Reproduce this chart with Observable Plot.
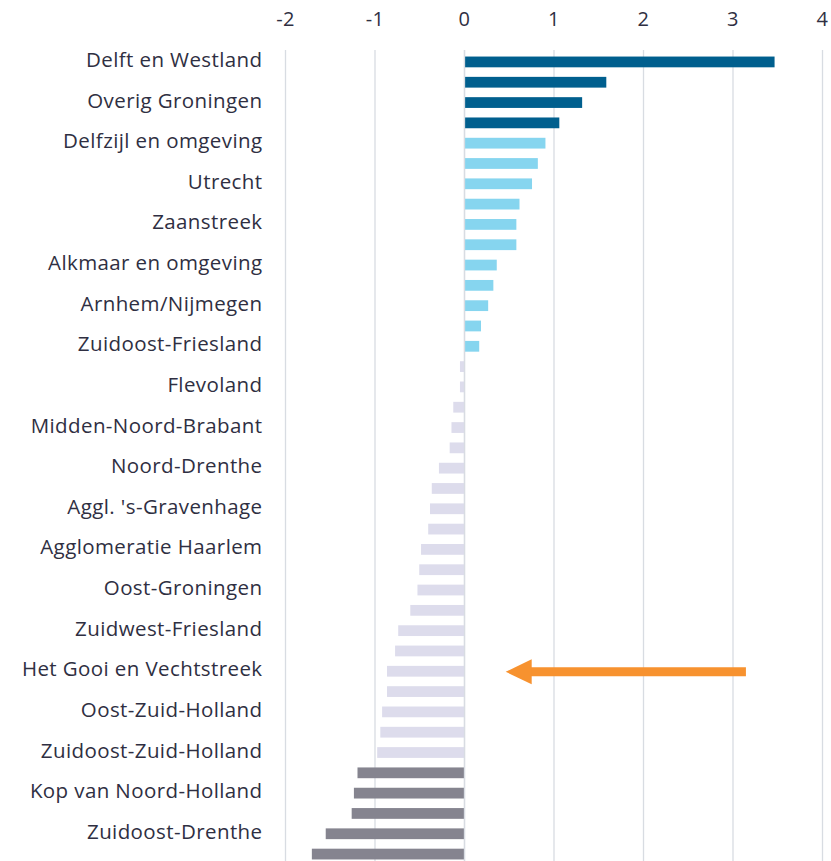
<!DOCTYPE html>
<html><head><meta charset="utf-8">
<script src="https://cdn.jsdelivr.net/npm/d3@7"></script>
<script src="https://cdn.jsdelivr.net/npm/@observablehq/plot@0.6"></script>
<style>
html,body{margin:0;padding:0;background:#fff;overflow:hidden;}
svg{display:block;}
</style>
</head><body><div id="chart"></div>
<script>
// Labels shown in the picture (every other bar is unlabeled)
const labels = [
  "Delft en Westland", "", "Overig Groningen", "", "Delfzijl en omgeving", "",
  "Utrecht", "", "Zaanstreek", "", "Alkmaar en omgeving", "", "Arnhem/Nijmegen", "",
  "Zuidoost-Friesland", "", "Flevoland", "", "Midden-Noord-Brabant", "",
  "Noord-Drenthe", "", "Aggl. 's-Gravenhage", "", "Agglomeratie Haarlem", "",
  "Oost-Groningen", "", "Zuidwest-Friesland", "", "Het Gooi en Vechtstreek", "",
  "Oost-Zuid-Holland", "", "Zuidoost-Zuid-Holland", "", "Kop van Noord-Holland", "",
  "Zuidoost-Drenthe", ""
];
const values = [
  3.47, 1.59, 1.32, 1.065, 0.91, 0.825, 0.76, 0.62, 0.585, 0.585,
  0.366, 0.328, 0.27, 0.19, 0.17, -0.045, -0.045, -0.12, -0.14, -0.16,
  -0.28, -0.36, -0.38, -0.40, -0.48, -0.50, -0.52, -0.60, -0.735, -0.77,
  -0.86, -0.86, -0.915, -0.935, -0.97, -1.19, -1.23, -1.255, -1.545, -1.70
];
const groups = [
  "top","top","top","top",
  "up","up","up","up","up","up","up","up","up","up","up",
  "down","down","down","down","down","down","down","down","down","down",
  "down","down","down","down","down","down","down","down","down","down",
  "bottom","bottom","bottom","bottom","bottom"
];
const groupNames = ["top","up","down","bottom"];
const groupColors = ["#005f8e","#86d5ef","#dddcec","#85848f"];
const xTicks = [-2,-1,0,1,2,3,4];
// orange arrow annotation: from value to value, at row of label
const arrowFrom = 3.15, arrowTo = 0.46, arrowRow = "Het Gooi en Vechtstreek";

const data = values.map((v,i) => ({id: i, label: labels[i], value: v, group: groups[i]}));
const arrowId = labels.indexOf(arrowRow);

// left-pointing filled triangle whose tip is at the anchor point
const headSymbol = {
  draw(ctx) {
    ctx.moveTo(0, 0);
    ctx.lineTo(26, -12.5);
    ctx.lineTo(26, 12.5);
    ctx.closePath();
  }
};

const chart = Plot.plot({
  width: 831,
  height: 861,
  marginLeft: 285,
  marginRight: 9,
  marginTop: 47,
  marginBottom: -8,
  style: {fontFamily: "'Open Sans', sans-serif", fontSize: "20.5px", color: "#2f2f42", letterSpacing: "0.4px"},
  x: {domain: [-2, 4], ticks: xTicks},
  y: {domain: data.map(d => d.id), padding: 0.47, round: false},
  color: {domain: groupNames, range: groupColors},
  marks: [
    Plot.ruleX(xTicks, {stroke: "#d8dce2", strokeWidth: 1.3, insetTop: 3, insetBottom: 8}),
    Plot.barX(data, {y: "id", x: "value", fill: "group"}),
    Plot.ruleX([0], {stroke: "#d8dce2", strokeWidth: 1.3, insetTop: 3, insetBottom: 8}),
    Plot.axisX({anchor: "top", ticks: xTicks, tickSize: 0, tickPadding: 22, tickFormat: d => d < 0 ? "-" + Math.abs(d) : String(d), fontSize: 20}),
    Plot.axisY({anchor: "left", tickSize: 0, tickPadding: 23, dy: -2, tickFormat: i => labels[i], fontSize: 20.5}),
    Plot.ruleY([{y: arrowId, x1: arrowTo + 0.2, x2: arrowFrom}], {
      y: "y", x1: "x1", x2: "x2", stroke: "#f7922f", strokeWidth: 9
    }),
    Plot.dot([{y: arrowId, x: arrowTo}], {
      y: "y", x: "x", symbol: headSymbol, fill: "#f7922f", stroke: "none"
    })
  ]
});
document.getElementById("chart").append(chart);
</script>
</body></html>
